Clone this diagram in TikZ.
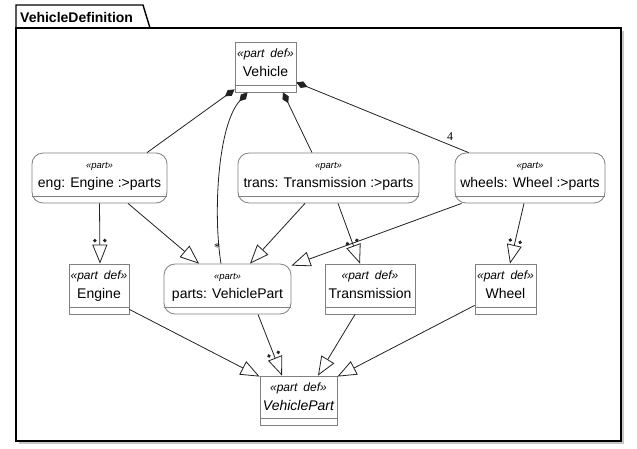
\documentclass[tikz,border=0pt]{standalone}
\usepackage{fontspec}
\setmainfont{Liberation Sans}
\newfontfamily\lblfont{Liberation Serif}
\usetikzlibrary{arrows.meta,calc,decorations.markings}
\definecolor{boxgray}{RGB}{128,128,128}
\definecolor{linecol}{RGB}{34,34,34}
\begin{document}
\begin{tikzpicture}[x=1pt,y=-1pt,
  box/.style={draw=boxgray, line width=0.8pt, fill=white, minimum height=50pt, inner sep=0pt},
  pdef/.style={box},
  pusage/.style={box, rounded corners=11pt},
  stereodef/.style={font=\fontsize{12}{14}\itshape\selectfont, anchor=base, inner sep=0pt},
  stereouse/.style={font=\fontsize{9.5}{11}\itshape\selectfont, anchor=base, inner sep=0pt},
  pname/.style={font=\fontsize{14}{16}\selectfont, anchor=base, inner sep=0pt},
  sepline/.style={draw=boxgray, line width=0.8pt},
  pkg/.style={draw=black, line width=1.4pt},
  title/.style={font=\fontsize{14}{16}\bfseries\selectfont, inner sep=0pt},
  lbl/.style={font=\fontsize{12}{14}\lblfont\selectfont, inner sep=0pt},
  conn/.style={draw=linecol, line width=0.8pt},
  comp/.style={conn, {Diamond[length=12pt,width=7pt,fill=linecol]}-},
  spec/.style={conn, -{Triangle[open, length=19pt, width=15pt, line width=0.8pt]}},
  typed/.style={spec, postaction={decorate}, decoration={markings,
     mark=at position -23pt with {\fill[linecol] (0,5pt) circle (1.9pt); \fill[linecol] (0,-5pt) circle (1.9pt);}}}
]
\useasboundingbox (0,0) rectangle (637,448);
% package
\draw[gray!45, line width=1.2pt] (623,31) -- (623,443) -- (19,443);
\draw[pkg, fill=white] (16,28) rectangle (621,441);
\draw[pkg] (16,28) -- (16,5) -- (143,5) -- (150,28);
\node[title, anchor=base west] (pkgtitle) at (20,22) {VehicleDefinition};

% boxes
\node[pdef, minimum width=61pt] (vehicle) at (265.5,67) {};
\node[pusage, minimum width=135pt] (eng) at (99.5,178) {};
\node[pusage, minimum width=181pt] (trans) at (328.5,178) {};
\node[pusage, minimum width=150pt] (wheels) at (530,178) {};
\node[pdef, minimum width=60pt] (engine) at (99,289) {};
\node[pusage, minimum width=127pt] (parts) at (227.5,289) {};
\node[pdef, minimum width=90pt] (transmission) at (370,289) {};
\node[pdef, minimum width=61pt] (wheel) at (505.5,289) {};
\node[pdef, minimum width=77pt, minimum height=49pt] (vpart) at (298.5,400.5) {};

\newcommand\boxtext[4]{%
  \node[#4] (#1-s) at ([yshift=-15.5pt]#1.north) {#2};
  \node[pname] (#1-n) at ([yshift=-34.5pt]#1.north) {#3};
  \draw[sepline] ([yshift=7pt]#1.south west) -- ([yshift=7pt]#1.south east);}
\boxtext{vehicle}{«part\hspace{6pt}def»}{Vehicle}{stereodef}
\boxtext{eng}{«part»}{eng: Engine :>parts}{stereouse}
\boxtext{trans}{«part»}{trans: Transmission :>parts}{stereouse}
\boxtext{wheels}{«part»}{wheels: Wheel :>parts}{stereouse}
\boxtext{engine}{«part\hspace{6pt}def»}{Engine}{stereodef}
\boxtext{parts}{«part»}{parts: VehiclePart}{stereouse}
\boxtext{transmission}{«part\hspace{6pt}def»}{Transmission}{stereodef}
\boxtext{wheel}{«part\hspace{6pt}def»}{Wheel}{stereodef}
\boxtext{vpart}{«part\hspace{6pt}def»}{\itshape VehiclePart}{stereodef}

% composition
\draw[comp] ([yshift=3pt]vehicle.south west) -- ([xshift=47.5pt]eng.north);
\draw[comp] ([xshift=-18pt]vehicle.south) .. controls (217.5,125) and (213,215) .. ([xshift=-6.5pt]parts.north);
\draw[comp] ([xshift=17.5pt]vehicle.south) -- ([xshift=-16.5pt]trans.north);
\draw[comp] ([yshift=10pt]vehicle.south east) -- ([xshift=14pt]wheels.north west);
\node[lbl] (mult4) at (450,137) {4};
\node[lbl] (multstar) at (217,248) {*};

% typing / subsetting
\draw[typed] (eng.south) -- ([xshift=1pt]engine.north);
\draw[spec] ([xshift=28.5pt]eng.south) -- ([xshift=-28.5pt]parts.north);
\draw[spec] ([xshift=-23.5pt]trans.south) -- ([xshift=22.5pt]parts.north);
\draw[typed] ([xshift=9.5pt]trans.south) -- ([xshift=-10pt]transmission.north);
\draw[spec] ([xshift=7pt]wheels.south west) -- ([yshift=-2pt]parts.north east);
\draw[typed] ([xshift=-6pt]wheels.south) -- ([xshift=4.5pt]wheel.north);
\draw[spec] ([yshift=5pt]engine.south east) -- ([yshift=-1pt]vpart.north west);
\draw[typed] ([xshift=30.5pt]parts.south) -- ([xshift=-16.5pt]vpart.north);
\draw[spec] ([xshift=-15pt]transmission.south) -- ([xshift=19.5pt]vpart.north);
\draw[spec] ([yshift=9pt]wheel.south west) -- ([yshift=-1pt]vpart.north east);
\end{tikzpicture}
\end{document}
